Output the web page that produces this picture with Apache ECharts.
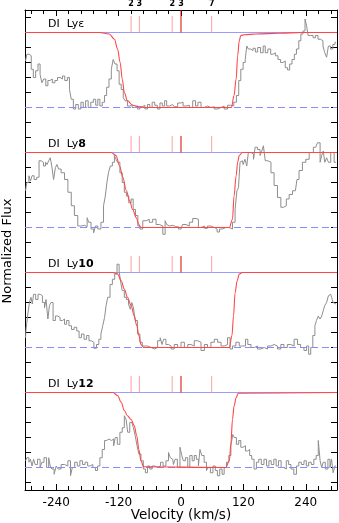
<!DOCTYPE html>
<html>
<head>
<meta charset="utf-8">
<script src="https://cdn.jsdelivr.net/npm/echarts@6/dist/echarts.min.js"></script>
<style>
  html, body { margin: 0; padding: 0; background: #fff; }
  #chart { width: 339px; height: 523px; }
</style>
</head>
<body>
<div id="chart"></div>
<script>
// velocity (km/s) and normalized flux of each spectrum
const epsVel = [-299,-294,-290,-286,-282,-277,-273,-269,-266,-262,-258,-254,-250,-245,-240,-235,-230,-226,-221,-216,-213,-209,-205,-200,-195,-190,-186,-181,-176,-171,-166,-162,-158,-154,-149,-145,-141,-136,-132,-129,-125,-121,-117,-113,-109,-106,-100,-96,-92,-86,-81,-77,-72,-67,-62,-58,-53,-48,-43,-38,-34,-29,-26,
  -22,-16,-10,-3,2,6,13,19,26,30,35,42,48,54,61,67,74,80,86,93,99,104,109,113,117,122,125,128,131,136,141,145,150,156,160,164,170,175,179,184,189,194,198,203,207,211,216,220,224,229,232,237,240,243,246,252,256,261,266,271,275,278,282,285,290,294,298];
const epsFlux = [0.62,0.71,0.69,0.51,0.40,0.49,0.58,0.44,0.33,0.38,0.29,0.36,0.38,0.33,0.36,0.40,0.38,0.42,0.36,0.40,0.24,0.11,-0.02,0.04,-0.02,0.07,0.00,0.09,0.00,0.07,0.11,0.03,0.11,0.02,0.07,0.16,0.27,0.38,0.51,0.64,0.58,0.49,0.31,0.24,0.13,0.09,0.02,0.04,0.00,0.02,-0.02,0.01,0.03,-0.02,0.04,0.00,0.07,0.03,-0.02,0.06,0.02,0.09,0.02,
  0.02,0.04,0.01,0.06,0.07,0.02,0.03,0.00,0.09,0.02,0.07,0.00,0.02,0.00,0.01,-0.02,0.00,0.02,-0.02,0.03,0.02,0.07,0.16,0.36,0.51,0.60,0.64,0.82,0.78,0.76,0.79,0.74,0.80,0.73,0.82,0.73,0.78,0.71,0.73,0.69,0.64,0.60,0.62,0.53,0.50,0.58,0.64,0.71,0.78,0.89,0.98,1.02,1.18,1.09,0.96,0.96,0.93,0.96,0.91,0.89,0.82,0.73,0.67,0.82,0.78,0.84,0.87];

const ly8Vel = [-299,-294,-291,-288,-285,-280,-275,-271,-267,-262,-259,-256,-253,-250,-247,-243,-240,-237,-234,-227,-221,-214,-208,-202,-195,-189,-182,-179,-176,-170,-166,-163,-157,-151,-147,-144,-141,-138,-134,-130,-126,-124,-120,-115,-111,-107,-103,-98,-94,-90,-85,-81,-77,-70,-64,-58,-51,-45,-38,-32,-29,-26,
  -22,-16,-10,0,6,13,19,26,32,35,42,48,54,61,67,72,76,83,89,96,102,106,109,112,115,118,121,125,128,131,138,141,144,150,154,157,160,164,170,176,182,189,195,200,205,211,218,222,224,230,237,243,250,259,266,269,272,275,278,282,285,291,298];
const ly8Flux = [0.49,0.60,0.69,0.62,0.69,0.64,0.67,0.89,0.87,0.82,0.87,0.84,0.89,0.93,0.82,0.64,0.80,0.84,0.78,0.73,0.64,0.47,0.29,0.16,0.02,0.03,0.01,0.13,0.07,-0.02,-0.07,0.02,-0.02,0.07,0.29,0.42,0.60,0.73,0.82,0.87,0.96,0.91,0.87,0.73,0.60,0.47,0.42,0.33,0.38,0.24,0.16,0.02,-0.02,0.09,0.11,0.07,0.11,0.04,0.02,-0.09,0.09,0.04,
  0.02,0.03,0.01,-0.02,0.04,0.02,0.07,0.12,0.11,0.00,0.02,-0.01,0.02,0.00,-0.02,-0.06,-0.02,0.00,0.00,-0.02,0.07,0.24,0.49,0.53,0.87,0.89,0.84,0.91,0.82,1.00,0.98,0.91,1.07,1.04,0.96,1.02,1.09,0.89,0.87,0.73,0.56,0.40,0.27,0.29,0.38,0.44,0.49,0.47,0.64,0.76,0.87,0.91,1.00,1.07,1.13,0.87,0.96,1.02,0.87,0.93,0.87,1.00,0.87];

const ly10Vel = [-299,-297,-293,-290,-287,-285,-282,-277,-273,-269,-264,-261,-258,-254,-252,-248,-244,-239,-235,-230,-226,-222,-218,-213,-208,-203,-198,-194,-189,-184,-179,-175,-170,-165,-160,-156,-152,-149,-145,-143,-139,-134,-130,-125,-121,-117,-115,-111,-107,-103,-99,-96,-93,-90,-86,-81,-77,-72,-67,-61,-54,-48,-42,-38,-35,-32,-26,
  -22,-16,-10,-3,3,10,16,22,29,35,42,48,54,61,67,74,80,86,93,96,102,109,115,122,126,131,138,144,150,157,163,170,176,182,189,195,201,208,214,221,227,233,240,243,248,251,256,259,262,266,269,272,275,278,282,285,288,291,294,298];
const ly10Flux = [0.13,0.24,0.42,0.60,0.67,0.58,0.71,0.64,0.71,0.69,0.60,0.53,0.64,0.38,0.56,0.60,0.36,0.42,0.40,0.36,0.38,0.31,0.36,0.29,0.24,0.27,0.22,0.13,0.18,0.11,0.16,0.09,0.07,-0.01,0.04,0.11,0.18,0.29,0.40,0.56,0.67,0.84,0.91,0.98,1.11,1.02,0.87,0.76,0.67,0.64,0.58,0.51,0.60,0.53,0.36,0.18,0.07,0.02,0.02,0.00,-0.02,0.00,0.09,0.13,0.04,0.11,0.04,
  0.02,-0.02,0.04,0.00,0.07,0.00,0.04,0.02,0.09,0.07,-0.04,0.04,0.00,0.07,0.11,0.07,0.02,0.04,0.13,-0.02,0.02,0.07,0.02,0.02,0.11,0.04,0.00,0.02,-0.02,0.00,-0.02,0.02,0.04,0.02,-0.02,0.04,0.00,0.04,0.02,0.11,0.04,0.00,-0.04,0.02,-0.09,0.00,0.16,0.29,0.36,0.42,0.38,0.42,0.49,0.56,0.60,0.69,0.71,0.67,0.60,0.58];

const ly12Vel = [-299,-294,-291,-288,-285,-282,-279,-273,-269,-266,-261,-256,-253,-250,-247,-241,-239,-234,-227,-221,-214,-211,-207,-202,-197,-192,-187,-182,-177,-173,-166,-163,-158,-154,-149,-145,-141,-136,-131,-128,-125,-120,-115,-111,-107,-104,-101,-96,-93,-90,-86,-83,-79,-75,-70,-67,-62,-58,-53,-48,-42,-37,-32,-26,
  -22,-19,-16,-13,-10,-4,0,3,6,11,15,19,24,27,32,35,38,42,47,51,54,59,64,68,72,77,81,85,90,94,98,101,104,109,113,117,122,126,130,134,138,143,147,152,157,162,167,171,176,181,185,190,195,200,205,209,214,220,224,229,234,239,243,248,253,258,262,266,269,272,275,280,285,288,291,294,298];
const ly12Flux = [0.09,0.13,0.07,0.11,0.02,0.11,0.04,0.11,0.00,0.07,0.13,0.00,0.13,0.02,-0.02,-0.09,0.02,-0.02,0.04,0.02,0.09,-0.11,0.00,0.07,0.02,0.09,0.04,0.07,0.02,0.04,0.00,-0.04,0.02,0.13,0.24,0.36,0.38,0.36,0.38,0.29,0.40,0.31,0.47,0.53,0.69,0.64,0.47,0.60,0.62,0.53,0.42,0.29,0.18,0.09,-0.02,-0.07,0.02,-0.02,0.02,0.00,0.02,0.07,0.02,0.09,
  0.20,0.13,0.11,0.04,0.11,0.00,0.27,0.16,0.09,0.13,0.00,0.16,0.09,0.16,0.11,0.02,0.24,0.16,0.07,-0.04,0.00,-0.07,0.02,-0.04,-0.11,-0.02,-0.09,0.00,0.07,0.16,0.29,0.44,0.40,0.31,0.36,0.27,0.29,0.22,0.24,0.16,0.11,-0.02,0.07,0.11,0.04,0.11,0.02,0.09,0.04,0.11,0.02,0.09,0.00,-0.02,0.09,0.04,-0.02,-0.09,0.02,0.07,0.04,0.09,0.02,0.07,0.04,0.11,0.16,0.36,0.09,0.00,0.07,-0.02,0.11,0.00,0.11,-0.07,0.02];

// fitted model profiles (red curves)
const epsModelVel = [-300,-157,-138,-128,-122,-117,-113,-109,-103,-93,-80,-70,92,97,102,106,109,112,115,122,144,189,233,300];
const epsModelFlux = [1,1,0.98,0.91,0.78,0.60,0.38,0.20,0.09,0.03,0.01,0,0,0,0.16,0.38,0.69,0.89,0.96,0.97,0.98,0.99,1,1];
const ly8ModelVel = [-300,-134,-125,-118,-112,-105,-99,-93,-86,-81,-77,93,99,102,106,109,112,118,300];
const ly8ModelFlux = [1,1,0.96,0.82,0.67,0.49,0.36,0.24,0.13,0.04,0,0,0.11,0.42,0.69,0.87,0.96,1,1];
const ly10ModelVel = [-300,-131,-122,-115,-109,-103,-96,-90,-85,-81,-77,-72,93,98,101,104,108,112,118,300];
const ly10ModelFlux = [1,1,0.98,0.89,0.78,0.67,0.56,0.42,0.29,0.16,0.04,0,0,0.16,0.42,0.73,0.89,0.98,1,1];
const ly12ModelVel = [-300,-131,-122,-115,-109,-103,-96,-90,-85,-81,-77,-72,86,93,96,99,102,106,110,300];
const ly12ModelFlux = [1,1,0.96,0.87,0.76,0.69,0.64,0.56,0.42,0.24,0.09,0.01,0,0.09,0.33,0.64,0.82,0.93,0.99,1];

// component positions marked at the top of each panel
const markerVel = [-96, -80, -17, 0, 59];
const markerLabel = ['2', '3', '2', '3', '7'];
const markerMain = [false, false, false, true, false];

const panelNames = ['Lyε', 'Ly8', 'Ly10', 'Ly12'];
const majorTicks = [-240, -120, 0, 120, 240];
const minorTicks = [-288,-264,-240,-216,-192,-168,-144,-120,-96,-72,-48,-24,0,24,48,72,96,120,144,168,192,216,240,264,288];
const fluxTicks = [-0.2, 0, 0.2, 0.4, 0.6, 0.8, 1.0, 1.2];

const spectra = [
  { vel: epsVel, flux: epsFlux, mVel: epsModelVel, mFlux: epsModelFlux },
  { vel: ly8Vel, flux: ly8Flux, mVel: ly8ModelVel, mFlux: ly8ModelFlux },
  { vel: ly10Vel, flux: ly10Flux, mVel: ly10ModelVel, mFlux: ly10ModelFlux },
  { vel: ly12Vel, flux: ly12Flux, mVel: ly12ModelVel, mFlux: ly12ModelFlux }
];

const FONT = 'DejaVu Sans';
const LEFT = 25, TOP = 10, W = 312, H = 120;

const chart = echarts.init(document.getElementById('chart'), null, { renderer: 'canvas' });

const grid = [], xAxis = [], yAxis = [], series = [], graphic = [];
const blackLine = { color: '#000', width: 1 };

spectra.forEach((s, i) => {
  const last = i === spectra.length - 1;
  grid.push({ left: LEFT, top: TOP + i * H, width: W, height: H });
  xAxis.push({
    type: 'value', gridIndex: i, min: -300, max: 300, position: 'bottom',
    axisLine: { show: last, onZero: false, lineStyle: blackLine },
    axisTick: { show: last, inside: true, length: 6, customValues: majorTicks, lineStyle: blackLine },
    axisLabel: { show: last, customValues: majorTicks, margin: 7, fontSize: 12, color: '#000', fontFamily: FONT },
    splitLine: { show: false }
  });
  ['left', 'right'].forEach(pos => {
    yAxis.push({
      type: 'value', gridIndex: i, min: -0.3, max: 1.3, position: pos,
      axisLine: { show: true, onZero: false, lineStyle: blackLine },
      axisTick: { show: true, inside: true, length: 6, customValues: fluxTicks, lineStyle: blackLine },
      axisLabel: { show: false },
      splitLine: { show: false }
    });
  });

  const yi = 2 * i;
  const base = { type: 'line', xAxisIndex: i, yAxisIndex: yi, symbol: 'none', silent: true, animation: false };
  // continuum and zero level
  series.push(Object.assign({}, base, {
    z: 1, lineStyle: { color: '#9c9cff', width: 1 },
    data: [[-300, 1], [300, 1]]
  }));
  series.push(Object.assign({}, base, {
    z: 3, lineStyle: { color: '#8a8aff', width: 1, type: [7, 4] },
    data: [[-300, 0], [300, 0]]
  }));
  // component ticks above the continuum
  markerVel.forEach((v, k) => {
    const top = (i === 0 && markerMain[k]) ? 1.3 : 1.22;
    series.push(Object.assign({}, base, {
      z: 5, lineStyle: { color: markerMain[k] ? '#dd0000' : '#ffa0a0', width: 1 },
      data: [[v, 1], [v, top]]
    }));
  });
  series.push(Object.assign({}, base, {
    z: 2, step: 'middle',
    lineStyle: { color: '#8e8e8e', width: 1 },
    data: s.vel.map((v, k) => [v, s.flux[k]])
  }));
  series.push(Object.assign({}, base, {
    z: 4, smooth: 0.35, smoothMonotone: 'x',
    lineStyle: { color: '#ff4646', width: 1.1 },
    data: s.mVel.map((v, k) => [v, s.mFlux[k]])
  }));

  const name = panelNames[i];
  const num = name.replace('Ly', '');
  graphic.push({
    type: 'text', left: 48, top: TOP + i * H + 9,
    style: {
      text: /\d/.test(num) ? '{n|DI  Ly}{b|' + num + '}' : '{n|DI  ' + name + '}',
      rich: {
        n: { font: '11px ' + FONT, fill: '#000' },
        b: { font: 'bold 11px ' + FONT, fill: '#000' }
      }
    }
  });
});

// bottom minor ticks
xAxis.push({
  type: 'value', gridIndex: 3, min: -300, max: 300, position: 'bottom',
  axisLine: { show: false, onZero: false },
  axisTick: { show: true, inside: true, length: 4, customValues: minorTicks, lineStyle: blackLine },
  axisLabel: { show: false }, splitLine: { show: false }
});
// top frame with minor ticks and component labels
xAxis.push({
  type: 'value', gridIndex: 0, min: -300, max: 300, position: 'top',
  axisLine: { show: true, onZero: false, lineStyle: blackLine },
  axisTick: { show: true, inside: true, length: 4, customValues: minorTicks, lineStyle: blackLine },
  axisLabel: {
    show: true, customValues: markerVel, margin: 2, fontSize: 8, fontWeight: 'bold',
    color: '#000', fontFamily: FONT, hideOverlap: false,
    formatter: v => markerLabel[markerVel.indexOf(v)]
  },
  splitLine: { show: false }
});
// top major ticks
xAxis.push({
  type: 'value', gridIndex: 0, min: -300, max: 300, position: 'top',
  axisLine: { show: false, onZero: false },
  axisTick: { show: true, inside: true, length: 6, customValues: majorTicks, lineStyle: blackLine },
  axisLabel: { show: false }, splitLine: { show: false }
});

graphic.push({
  type: 'text', x: 8, y: 251, rotation: Math.PI / 2,
  style: { text: 'Normalized Flux', font: '13px ' + FONT, fill: '#000', align: 'center', verticalAlign: 'middle' }
});
graphic.push({
  type: 'text', x: 181, y: 515,
  style: { text: 'Velocity (km/s)', font: '13.5px ' + FONT, fill: '#000', align: 'center', verticalAlign: 'middle' }
});

chart.setOption({
  animation: false,
  backgroundColor: '#fff',
  grid, xAxis, yAxis, series, graphic
});
</script>
</body>
</html>
